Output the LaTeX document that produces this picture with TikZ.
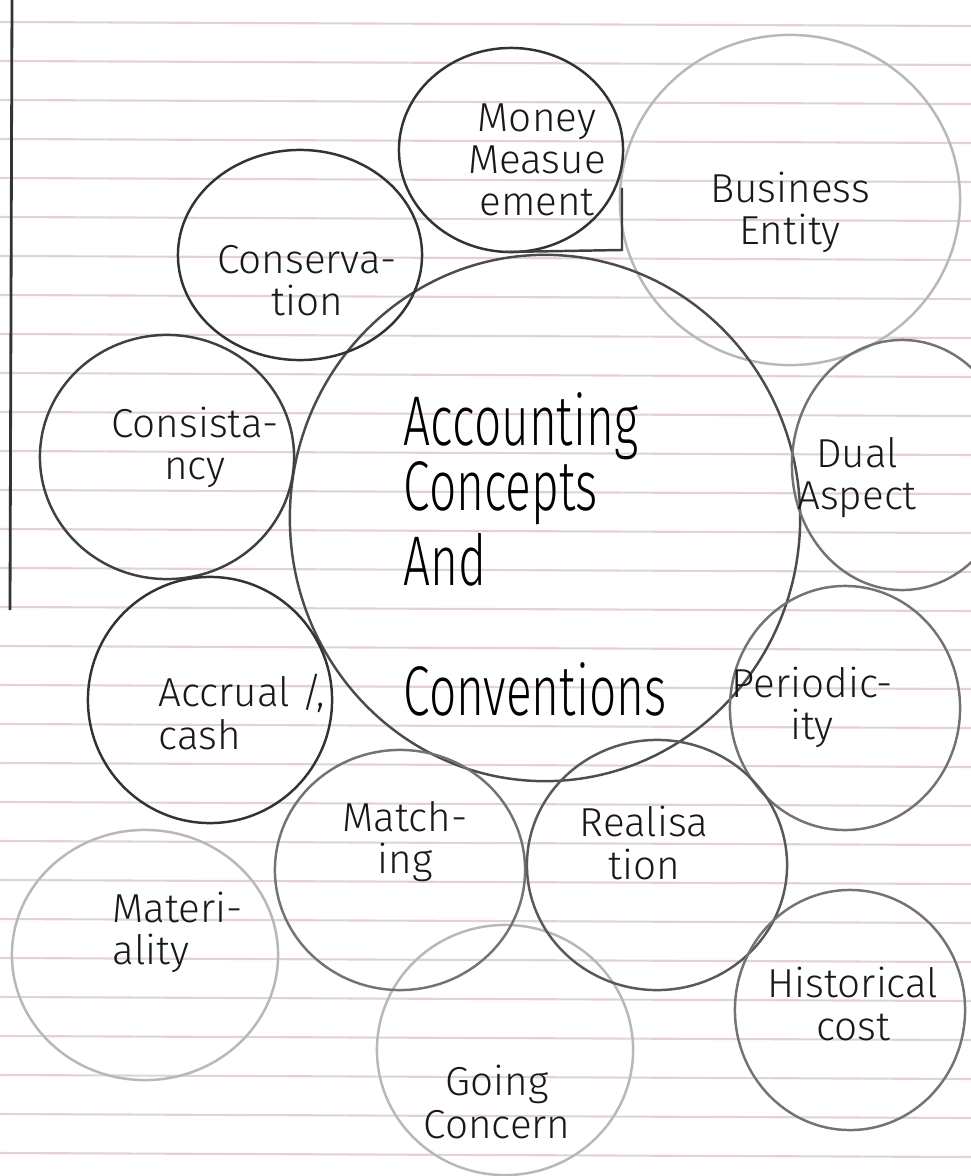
\documentclass[tikz,border=0pt]{standalone}
\usepackage{fontspec}
\newfontfamily\handfont{Fira Sans Light}
\newfontfamily\titlefont{Fira Sans Light}[FakeStretch=0.68]
\usetikzlibrary{shapes.geometric}
\definecolor{ruling}{RGB}{226,210,215}
\tikzset{
  bubble/.style={ellipse,draw=black!80,line width=0.7pt,inner sep=0pt},
  soft/.style={draw=black!55},
  faint/.style={draw=black!28},
  word/.style={font=\handfont\fontsize{11.5}{12}\selectfont,align=center,text=black!90,inner sep=0pt}
}
\begin{document}
\begin{tikzpicture}[x=0.01cm,y=-0.01cm]
  \fill[white] (0,0) rectangle (971,1176);
  \useasboundingbox (0,0) rectangle (971,1176);
  \clip (0,0) rectangle (971,1176);
  \foreach \k in {0,...,29}
    \draw[ruling,line width=0.6pt] (0,{22+39*\k}) -- (971,{26+39*\k});
  \draw[black!80,line width=0.8pt] (12,0) -- (10,610);

  \node[bubble,faint,minimum width=3.4cm,minimum height=3.3cm] (busc) at (790,200) {};
  \node[bubble,faint,minimum width=2.66cm,minimum height=2.5cm] (matc) at (145,955) {};
  \node[bubble,faint,minimum width=2.56cm,minimum height=2.5cm] (goic) at (505,1050) {};
  \node[bubble,draw=black!70,minimum width=5.1cm,minimum height=5.26cm] (main) at (545,518) {};
  \node[bubble,minimum width=2.24cm,minimum height=2.04cm] (monc) at (511,150) {};
  \node[bubble,minimum width=2.44cm,minimum height=2.1cm] (conc) at (300,255) {};
  \node[bubble,draw=black!75,minimum width=2.54cm,minimum height=2.44cm] (cstc) at (167,457) {};
  \node[bubble,soft,minimum width=2.2cm,minimum height=2.5cm] (dualc) at (902,465) {};
  \node[bubble,minimum width=2.44cm,minimum height=2.46cm] (accc) at (210,700) {};
  \node[bubble,soft,minimum width=2.3cm,minimum height=2.44cm] (perc) at (845,708) {};
  \node[bubble,soft,minimum width=2.5cm,minimum height=2.4cm] (mtcc) at (400,870) {};
  \node[bubble,draw=black!65,minimum width=2.6cm,minimum height=2.5cm] (reac) at (657,865) {};
  \node[bubble,soft,minimum width=2.3cm,minimum height=2.4cm] (hisc) at (850,1010) {};
  \draw[black!75,line width=0.7pt] (505,252) -- (622,250) -- (622,188);

  \node[font=\titlefont\fontsize{20}{18.4}\selectfont,align=left,anchor=north west,inner sep=0pt] (title) at (403,392)
    {Accounting\\Concepts\\[0.05cm]And\\[0.65cm]Conventions};
  \node[word] (money) at (537,160) {Money\\Measue\\ement};
  \node[word] (business) at (790,212) {Business\\Entity};
  \node[word] (conserv) at (307,281) {Conserva-\\tion};
  \node[word] (consist) at (195,447) {Consista-\\ncy};
  \node[word] (dual) at (857,478) {Dual\\Aspect};
  \node[word,align=left,anchor=west] (accrual) at (158,712) {Accrual /,\\cash};
  \node[word] (period) at (812,707) {Periodic-\\ity};
  \node[word] (match) at (405,842) {Match-\\ing};
  \node[word] (realis) at (644,843) {Realisa\\tion};
  \node[word,align=left,anchor=west] (mater) at (112,932) {Materi-\\ality};
  \node[word] (hist) at (853,1004) {Historical\\cost};
  \node[word] (going) at (497,1102) {Going\\Concern};
\end{tikzpicture}
\end{document}
